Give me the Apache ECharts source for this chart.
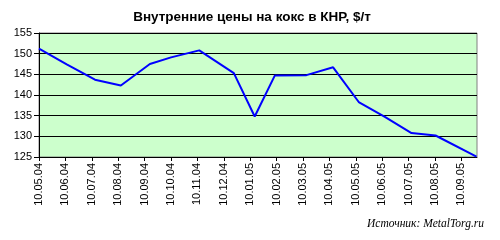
<!DOCTYPE html>
<html><head><meta charset="utf-8">
<script src="https://cdn.jsdelivr.net/npm/echarts@6/dist/echarts.min.js"></script>
<style>html,body{margin:0;padding:0;background:#fff}#c{width:500px;height:240px}</style>
</head><body><div id="c"></div>
<script>
const tickLabels = ['10.05.04','10.06.04','10.07.04','10.08.04','10.09.04','10.10.04','10.11.04','10.12.04','10.01.05','10.02.05','10.03.05','10.04.05','10.05.05','10.06.05','10.07.05','10.08.05','10.09.05'];
// position in months since 10.05.04
const pointMonths = [0, 1.05, 2.12, 3.1, 4.2, 5.0, 6.07, 7.38, 8.17, 8.93, 10.13, 11.14, 12.11, 13.1, 14.11, 15.02, 16.57];
const prices =      [151.2, 147.4, 143.7, 142.3, 147.5, 149.1, 150.8, 145.3, 134.8, 144.7, 144.8, 146.7, 138.3, 134.7, 130.8, 130.2, 125.1];
const xMax = 16.59;

const chart = echarts.init(document.getElementById('c'));
chart.setOption({
  animation: false,
  backgroundColor: '#ffffff',
  title: [{
    text: 'Внутренние цены на кокс в КНР, $/т',
    left: 247, top: 5, textAlign: 'center',
    textStyle: {fontFamily: 'Liberation Sans', fontWeight: 'bold', fontSize: 13.5, color: '#000'}
  }, {
    text: 'Источник: MetalTorg.ru',
    right: 11, top: 213,
    textStyle: {fontFamily: 'Liberation Serif', fontStyle: 'italic', fontWeight: 'normal', fontSize: 11.5, color: '#000'}
  }],
  grid: {left: 39, right: 23, top: 33, bottom: 83, show: true, backgroundColor: '#CCFFCC', borderColor: '#808080', borderWidth: 1},
  xAxis: {
    type: 'value', min: 0, max: xMax, interval: 1,
    axisLine: {show: true, lineStyle: {color: '#000'}},
    axisTick: {show: true, length: 4, lineStyle: {color: '#000'}},
    splitLine: {show: false},
    axisLabel: {
      rotate: 90, margin: 6, fontFamily: 'Liberation Sans', fontSize: 11, color: '#000',
      showMaxLabel: false,
      formatter: v => (Number.isInteger(v) && tickLabels[v]) ? tickLabels[v] : ''
    }
  },
  yAxis: {
    type: 'value', min: 125, max: 155, interval: 5,
    axisLine: {show: true, lineStyle: {color: '#000'}},
    axisTick: {show: true, length: 5, lineStyle: {color: '#000'}},
    splitLine: {show: true, lineStyle: {color: '#000', width: 1}},
    axisLabel: {margin: 7, fontFamily: 'Liberation Sans', fontSize: 11, color: '#000'}
  },
  series: [{
    type: 'line',
    data: pointMonths.map((m, i) => [m, prices[i]]),
    symbol: 'none',
    lineStyle: {color: '#0000FF', width: 2},
    z: 5
  }]
});
</script></body></html>
